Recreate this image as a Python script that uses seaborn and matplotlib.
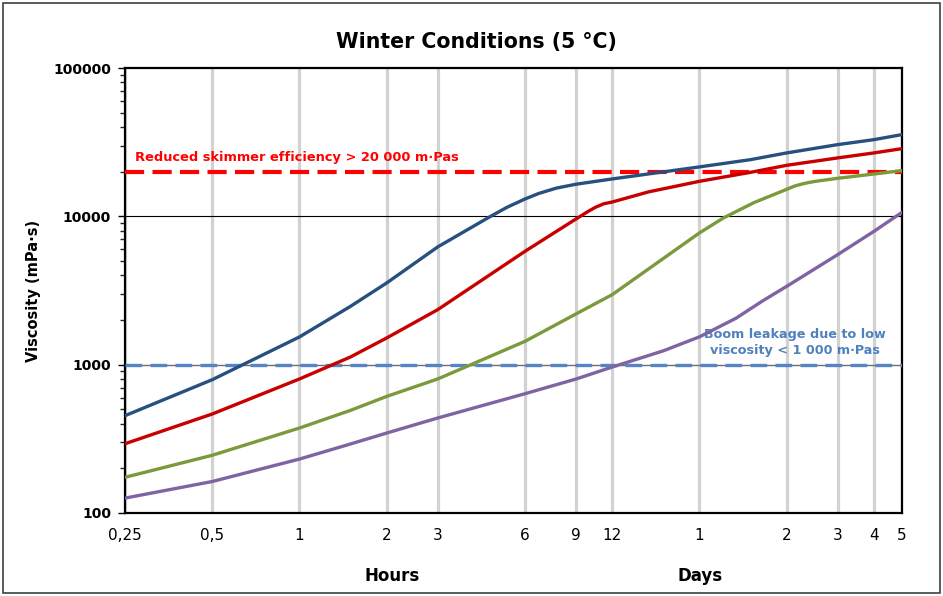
import matplotlib
matplotlib.use("Agg")
import matplotlib.pyplot as plt
from matplotlib.ticker import LogLocator, NullFormatter, FuncFormatter
from matplotlib.patches import Rectangle
import pandas as pd
import seaborn as sns

# Elapsed time since release (hours) and measured viscosity (mPa·s) per oil
hours_a = [0.25, 0.5, 1, 1.5, 2, 3, 4.5, 5.2, 6, 6.7, 7.7, 9, 12, 24, 36, 48, 72, 96, 120]
visc_a = [453, 792, 1538, 2473, 3556, 6220, 9840, 11500, 13090, 14270, 15500,
          16460, 17870, 21540, 24100, 26760, 30440, 32880, 35560]

hours_b = [0.25, 0.5, 1, 1.5, 2, 3, 6, 9, 9.9, 10.5, 11.2, 12, 16, 24, 36, 48, 72, 96, 120]
visc_b = [293, 465, 801, 1127, 1514, 2349, 5808, 9600, 10780, 11500, 12140,
          12490, 14610, 17220, 19800, 22080, 24770, 26760, 28600]

hours_c = [0.25, 0.5, 1, 1.5, 2, 3, 6, 9, 12, 24, 29, 37, 48, 51, 54, 57, 60, 72, 96, 120]
visc_c = [174, 245, 374, 492, 611, 801, 1436, 2198, 2965, 7730, 9740, 12370,
          15210, 15980, 16490, 16880, 17190, 18050, 19290, 20340]

hours_d = [0.25, 0.5, 1, 1.5, 2, 3, 6, 9, 12, 18, 24, 32, 40, 48, 72, 96, 120]
visc_d = [126, 163, 231, 292, 346, 437, 637, 800, 964, 1239, 1540, 2050, 2720,
          3373, 5520, 7920, 10640]

oil_names = ["Oil A", "Oil B", "Oil C", "Oil D"]
oil_colors = ["#28507F", "#C80000", "#7A9A3C", "#8064A2"]

# Axis ticks: hours up to 12 h, then days
tick_hours = [0.25, 0.5, 1, 2, 3, 6, 9, 12, 24, 48, 72, 96, 120]
tick_labels = ["0,25", "0,5", "1", "2", "3", "6", "9", "12", "1", "2", "3", "4", "5"]

# Operational thresholds (mPa·s)
skimmer_limit = 20000
leakage_limit = 1000

frames = []
for name, hrs, vals in zip(oil_names,
                           [hours_a, hours_b, hours_c, hours_d],
                           [visc_a, visc_b, visc_c, visc_d]):
    frames.append(pd.DataFrame({"hours": hrs, "viscosity": vals, "oil": name}))
df = pd.concat(frames, ignore_index=True)

sns.set_style("white")
plt.rcParams["font.family"] = ["DejaVu Sans"]
plt.rcParams["text.color"] = "black"
plt.rcParams["axes.labelcolor"] = "black"

fig = plt.figure(figsize=(9.43, 5.96), dpi=100)
ax = fig.add_axes([125 / 943, 1 - 513 / 596, 777 / 943, 445 / 596])
ax.set_xscale("log")
ax.set_yscale("log")

sns.lineplot(data=df, x="hours", y="viscosity", hue="oil", hue_order=oil_names,
             palette=oil_colors, estimator=None, linewidth=2.4, legend=False,
             ax=ax, zorder=4)
for line in ax.get_lines():
    line.set_solid_joinstyle("round")
    line.set_solid_capstyle("round")

# Threshold lines
ax.axhline(skimmer_limit, color="#FF0000", lw=3.0, dashes=(4.6, 2.0), zorder=3)
ax.axhline(leakage_limit, color="#6E6E6E", lw=1.0, zorder=1.5)
ax.axhline(leakage_limit, color="#5585C5", lw=2.4, dashes=(5.0, 2.5), zorder=3)
ax.axhline(10000, color="black", lw=0.8, zorder=1.5)

ax.set_xlim(0.25, 120)
ax.set_ylim(100, 100000)

# x axis
ax.set_xticks(tick_hours)
ax.set_xticklabels(tick_labels)
ax.xaxis.set_minor_locator(plt.NullLocator())
ax.grid(axis="x", color="#D2D2D2", lw=2.3)
ax.grid(axis="y", visible=False)
ax.set_axisbelow(True)
ax.tick_params(axis="x", length=0, pad=11, labelsize=11, colors="black")

# y axis
ax.yaxis.set_major_locator(LogLocator(base=10, numticks=10))
ax.yaxis.set_major_formatter(FuncFormatter(lambda v, p: f"{int(round(v))}"))
ax.yaxis.set_minor_locator(LogLocator(base=10, subs=range(2, 10), numticks=20))
ax.yaxis.set_minor_formatter(NullFormatter())
ax.tick_params(axis="y", which="major", direction="out", length=5, width=1,
               pad=5, labelsize=10, colors="black", left=True)
ax.tick_params(axis="y", which="minor", direction="out", length=3.5, width=1,
               left=True)
for lbl in ax.get_yticklabels():
    lbl.set_fontweight("bold")

ax.set_xlabel("")
ax.set_ylabel("Viscosity (mPa·s)", fontsize=10.5, fontweight="bold")
ax.yaxis.set_label_coords(-0.108, 0.5)

for side in ["left", "bottom", "top", "right"]:
    ax.spines[side].set_visible(True)
    ax.spines[side].set_color("black")
    ax.spines[side].set_linewidth(1.6)

# Threshold annotations
ax.text(0.013, 0.80, "Reduced skimmer efficiency > 20 000 m·Pas",
        transform=ax.transAxes, color="#FF0000", fontsize=9.4, fontweight="bold",
        ha="left", va="center")
ax.text(0.862, 0.383, "Boom leakage due to low\nviscosity < 1 000 m·Pas",
        transform=ax.transAxes, color="#4F81BD", fontsize=9.2, fontweight="bold",
        ha="center", va="center", multialignment="center", linespacing=1.35)

# Title and time-unit labels
fig.text(476 / 943, 1 - 42 / 596, "Winter Conditions (5 °C)", ha="center",
         va="center", fontsize=14.8, fontweight="bold")
fig.text(392 / 943, 1 - 576 / 596, "Hours", ha="center", va="center",
         fontsize=12, fontweight="bold")
fig.text(700 / 943, 1 - 576 / 596, "Days", ha="center", va="center",
         fontsize=12, fontweight="bold")

# Chart-area border
fig.patches.append(Rectangle((3 / 943, 3 / 596), 937 / 943, 590 / 596,
                             transform=fig.transFigure, fill=False,
                             ec="#404040", lw=1.2))

fig.savefig("out.png", dpi=100, facecolor="white")
